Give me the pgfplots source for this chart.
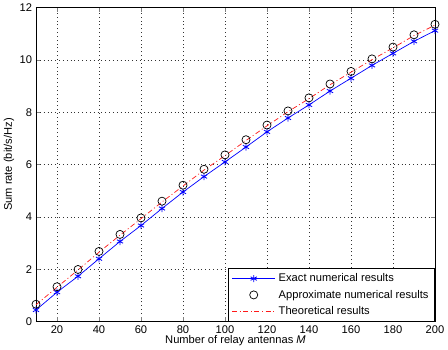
\documentclass[border=0pt]{standalone}
\usepackage{pgfplots}
\pgfplotsset{compat=1.18}
\usepackage{fontspec}
\setmainfont{Liberation Sans}
\begin{document}
\fontsize{11}{13}\selectfont
\begin{tikzpicture}
\begin{axis}[
  scale only axis,
  width=394pt, height=310pt,
  xmin=10, xmax=200, ymin=0, ymax=12,
  xtick={20,40,...,200}, ytick={0,2,...,12},
  /pgf/number format/assume math mode=true,
  tick align=inside, tick pos=both,
  major tick length=4pt,
  grid=major,
  major grid style={dash pattern=on 0.8pt off 3pt, black!80, line width=0.5pt},
  axis line style={black, line width=0.7pt},
  tick label style={font=\fontsize{11}{13}\selectfont},
  label style={font=\fontsize{11}{13}\selectfont},
  xlabel={Number of relay antennas \textit{M}},
  ylabel={Sum rate (bit/s/Hz)},
  xlabel style={yshift=5pt},
  ylabel style={yshift=-2pt},
  legend style={at={(1,0)}, anchor=south east, draw=black, line width=0.7pt,
    font=\fontsize{11}{12}\selectfont, inner sep=3pt, row sep=2.5pt,
    nodes={inner xsep=3pt}},
  legend cell align=left,
  legend image code/.code={
    \draw[mark repeat=2,mark phase=2,#1] plot coordinates {(0cm,0cm) (0.75cm,0cm) (1.5cm,0cm)};
  },
]
\addplot[blue, line width=0.7pt, mark=asterisk, mark size=3.5pt, mark options={solid, line width=0.8pt}] coordinates {
(10,0.44) (20,1.12) (30,1.73) (40,2.40) (50,3.06) (60,3.67) (70,4.32) (80,4.95)
(90,5.54) (100,6.10) (110,6.67) (120,7.25) (130,7.78) (140,8.28) (150,8.81)
(160,9.30) (170,9.79) (180,10.25) (190,10.71) (200,11.12)};
\addlegendentry{Exact numerical results}
\addplot[black, only marks, mark=o, mark size=4pt, line width=0.7pt] coordinates {
(10,0.66) (20,1.33) (30,1.99) (40,2.68) (50,3.33) (60,3.96) (70,4.60) (80,5.21)
(90,5.82) (100,6.37) (110,6.95) (120,7.51) (130,8.05) (140,8.55) (150,9.08)
(160,9.56) (170,10.04) (180,10.49) (190,10.96) (200,11.36)};
\addlegendentry{Approximate numerical results}
\addplot[red!90, line width=0.7pt, dash pattern=on 5pt off 2.5pt on 1pt off 2.5pt, no marks] coordinates {
(10,0.64) (20,1.31) (30,1.97) (40,2.65) (50,3.30) (60,3.93) (70,4.57) (80,5.18)
(90,5.79) (100,6.34) (110,6.92) (120,7.48) (130,8.02) (140,8.52) (150,9.05)
(160,9.53) (170,10.01) (180,10.46) (190,10.93) (200,11.33)};
\addlegendentry{Theoretical results}
\end{axis}
\end{tikzpicture}
\end{document}
